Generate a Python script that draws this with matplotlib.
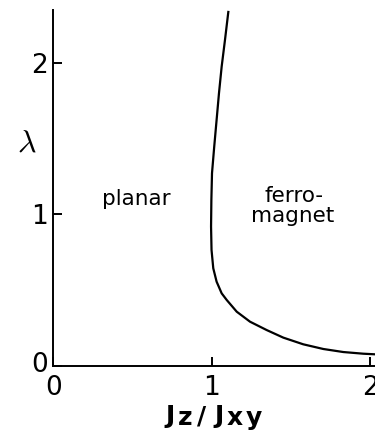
import matplotlib
matplotlib.use("Agg")
import matplotlib.pyplot as plt
import matplotlib.transforms as mtransforms

# phase boundary lambda(Jz/Jxy), read top to bottom
JZ_RATIO = [1.105, 1.084, 1.063, 1.046, 1.031, 1.016, 1.002, 0.998, 0.996,
            0.999, 1.010, 1.031, 1.063, 1.095, 1.158, 1.242, 1.347, 1.452,
            1.578, 1.705, 1.831, 1.957, 2.031]
LAMBDA = [2.334, 2.150, 1.974, 1.798, 1.622, 1.446, 1.271, 1.095, 0.919,
          0.765, 0.644, 0.556, 0.479, 0.435, 0.358, 0.292, 0.237, 0.187,
          0.143, 0.112, 0.092, 0.081, 0.077]

X_TICKS = [0, 1, 2]
Y_TICKS = [0, 1, 2]

# phase names: (text, x, y baseline)
REGIONS = [("planar", 0.527, 1.062),
           ("ferro-", 1.52, 1.081),
           ("magnet", 1.51, 0.951)]

# x-axis title split into glyph groups: (text, dx px, dy px)
XLABEL_PARTS = [("J", -45, 0), ("z", -30, -2), ("/", -13, 0),
                ("J", 4, 0), ("x", 20, -2), ("y", 39, -2)]

plt.rcParams["font.family"] = ["DejaVu Sans"]

fig = plt.figure(figsize=(3.75, 4.32), dpi=100)
ax = fig.add_axes([0.1421, 0.1528, 0.8579, 0.8241])

ax.plot(JZ_RATIO, LAMBDA, color="black", lw=1.6, solid_joinstyle="round")

ax.set_xlim(0, 2.031)
ax.set_ylim(0, 2.347)
ax.set_xticks(X_TICKS)
ax.set_yticks(Y_TICKS)
ax.tick_params(direction="in", length=6.5, width=1.4, labelsize=19,
               color="black")
ax.tick_params(axis="y", pad=3.6)
ax.tick_params(axis="x", pad=6.5)
for s in ["top", "right"]:
    ax.spines[s].set_visible(False)
for s in ["left", "bottom"]:
    ax.spines[s].set_linewidth(1.4)

# lift the origin label on the y axis a little
lift = mtransforms.ScaledTranslation(0, 4 / 100, fig.dpi_scale_trans)
ax.get_yticklabels()[0].set_transform(ax.get_yticklabels()[0].get_transform() + lift)

ax.set_ylabel(r"$\lambda$", rotation=0, fontsize=23, math_fontfamily="cm",
              ha="center", va="center")
ax.yaxis.set_label_coords(-0.083, 0.626)

for txt, x, y in REGIONS:
    ax.text(x, y, txt, ha="center", va="baseline", fontsize=15.5)

for txt, dx, dy in XLABEL_PARTS:
    ax.annotate(txt, xy=(0.5733, 0.0208), xycoords="figure fraction",
                xytext=(dx, dy), textcoords="offset pixels",
                ha="center", va="baseline", fontsize=18, fontweight="bold")

fig.savefig("out.png", dpi=100)
